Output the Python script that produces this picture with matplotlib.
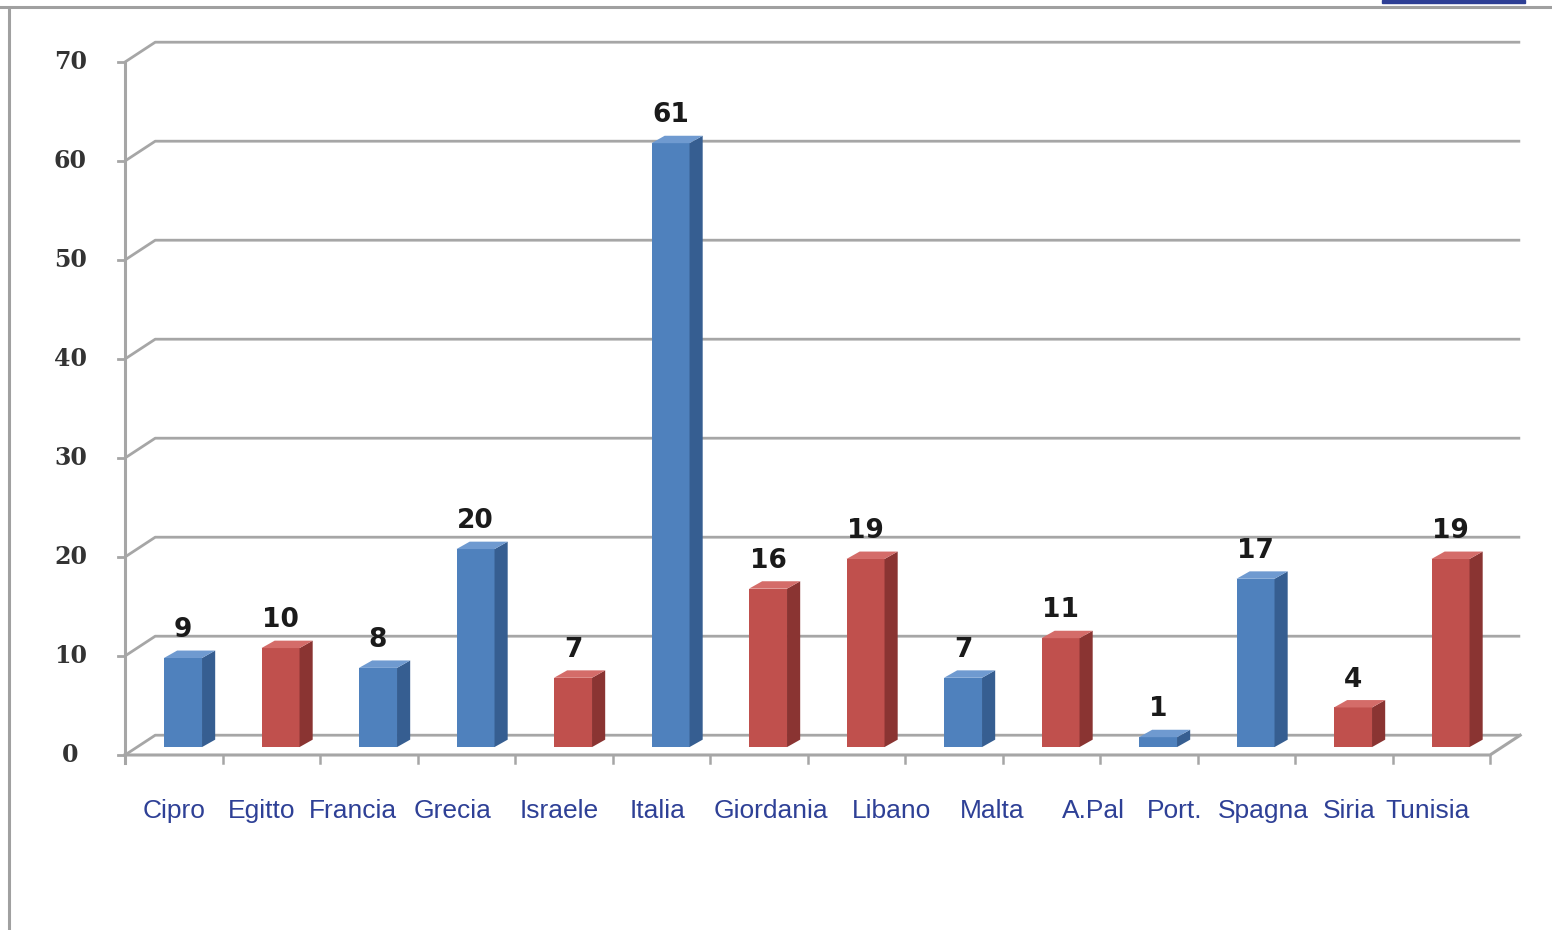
import matplotlib
matplotlib.use('Agg')
import matplotlib.pyplot as plt
from matplotlib.patches import Polygon, Rectangle

# dati
paesi = ['Cipro', 'Egitto', 'Francia', 'Grecia', 'Israele', 'Italia', 'Giordania',
         'Libano', 'Malta', 'A.Pal', 'Port.', 'Spagna', 'Siria', 'Tunisia']
valori = [9, 10, 8, 20, 7, 61, 16, 19, 7, 11, 1, 17, 4, 19]
ue = [True, False, True, True, False, True, False, False, True, False, True, True, False, False]
y_ticks = [0, 10, 20, 30, 40, 50, 60, 70]

# spostamento etichette (in categorie), come nell'originale
label_shift = [0.0, -0.1, -0.16, -0.14, -0.05, -0.04, 0.13, 0.36, 0.39, 0.43, 0.27, 0.18, 0.06, -0.14]

# colori
blu = ('#4F81BD', '#365E91', '#6F9AD0')
rosso = ('#C0504D', '#8A3432', '#D46C69')
griglia = '#A6A6A6'

fig = plt.figure(figsize=(15.52, 9.30), dpi=100)
ax = fig.add_axes([0, 0, 1, 1])
# 1 categoria = 97.5 px, 1 unita = 9.9 px
ax.set_xlim(-125 / 97.5, (1552 - 125) / 97.5)
ax.set_ylim(-175 / 9.9, 755 / 9.9)
ax.axis('off')

n = len(paesi)
DX, DY = 0.31, 2.0        # profondita del pavimento
bx, by = 0.095, 0.8       # posizione della faccia frontale delle barre
w = 0.39                  # larghezza barra
sx, sy = 0.135, 0.75      # profondita della barra

# griglia e pareti
for t in y_ticks:
    ax.plot([0, DX, n + DX], [t, t + DY, t + DY], color=griglia, lw=2.0, zorder=1,
            solid_capstyle='butt')
    ax.plot([-0.07, 0], [t, t], color=griglia, lw=2.0, zorder=1)
    ax.text(-0.56, t, str(t), ha='center', va='center', fontsize=17, fontweight='bold',
            family='DejaVu Serif', color='#333333')
ax.plot([0, n, n + DX], [0, 0, DY], color=griglia, lw=2.2, zorder=1)
ax.plot([0, 0], [-0.8, y_ticks[-1]], color=griglia, lw=2.2, zorder=1)
for k in range(1, n + 1):
    ax.plot([k, k], [0, -0.8], color=griglia, lw=1.8, zorder=1)

# barre pseudo 3D
for i, (v, eu) in enumerate(zip(valori, ue)):
    front, side, top = blu if eu else rosso
    x0 = i + 0.5 + bx - w / 2
    ax.bar(x0, v, width=w, bottom=by, align='edge', color=front, edgecolor='none', zorder=3)
    ax.add_patch(Polygon([(x0 + w, by), (x0 + w + sx, by + sy), (x0 + w + sx, by + v + sy),
                          (x0 + w, by + v)], closed=True, color=side, lw=0, zorder=3))
    ax.add_patch(Polygon([(x0, by + v), (x0 + w, by + v), (x0 + w + sx, by + v + sy),
                          (x0 + sx, by + v + sy)], closed=True, color=top, lw=0, zorder=3))
    ax.text(x0 + w / 2, by + v + 2.8, str(v), ha='center', va='center', fontsize=19,
            fontweight='bold', color='#1a1a1a', zorder=4)
    ax.text(i + 0.5 + label_shift[i], -5.7, paesi[i], ha='center', va='center', fontsize=19,
            family='Liberation Sans', color='#2E4096', zorder=4)

# cornice della diapositiva
fig.add_artist(plt.Line2D([0, 1], [1 - 7 / 930, 1 - 7 / 930], color='#A0A0A0', lw=2.2))
fig.add_artist(plt.Line2D([9 / 1552, 9 / 1552], [0, 1 - 10 / 930], color='#A0A0A0', lw=2.2))
fig.add_artist(Rectangle((1382 / 1552, 1 - 3 / 930), 143 / 1552, 3 / 930,
                         transform=fig.transFigure, color='#2E3F95'))

fig.savefig('out.png', dpi=100)
